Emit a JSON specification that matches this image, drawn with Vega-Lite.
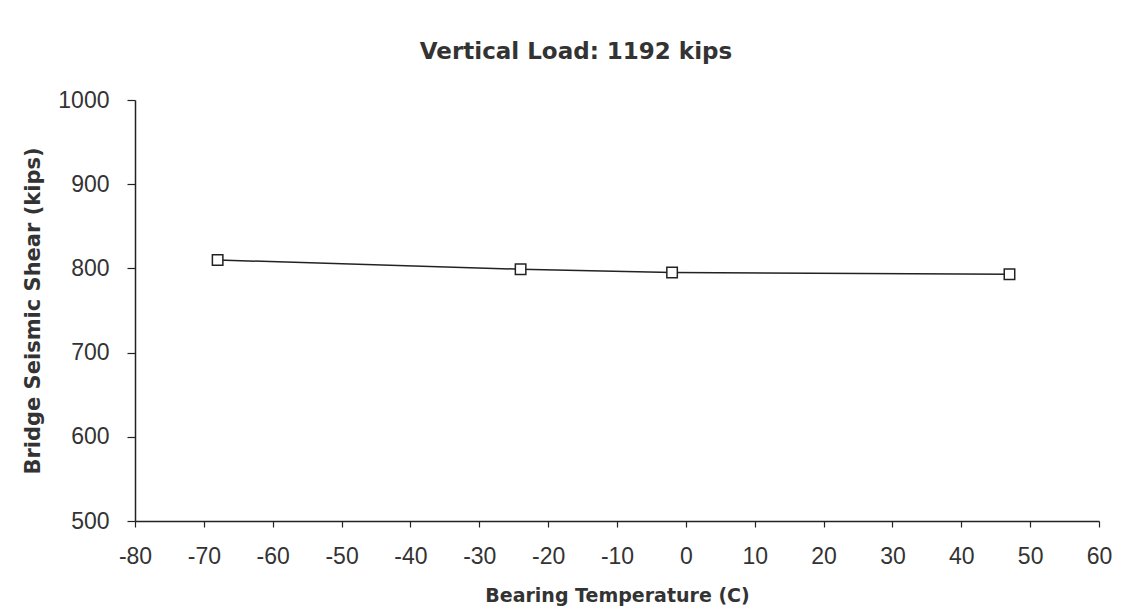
{
  "$schema": "https://vega.github.io/schema/vega-lite/v6.json",
  "autosize": {"type": "none"},
  "padding": {"left": 135, "top": 100, "right": 38, "bottom": 92},
  "width": 964,
  "height": 421,
  "background": "white",
  "title": {
    "text": "Vertical Load: 1192 kips",
    "font": "DejaVu Sans",
    "fontWeight": "bold",
    "fontSize": 23,
    "color": "#333333",
    "anchor": "middle",
    "dx": -41,
    "offset": 25
  },
  "data": {
    "values": [
      {"temperature": -68, "shear": 810},
      {"temperature": -24, "shear": 799},
      {"temperature": -2, "shear": 795},
      {"temperature": 47, "shear": 793}
    ]
  },
  "config": {
    "view": {"stroke": null},
    "axis": {
      "grid": false,
      "domainColor": "#222222",
      "domainWidth": 1.5,
      "tickColor": "#222222",
      "tickWidth": 1.2,
      "labelFont": "Liberation Sans",
      "labelFontSize": 23,
      "labelColor": "#333333",
      "labelExpr": "datum.value + ''",
      "titleFont": "DejaVu Sans",
      "titleFontWeight": "bold",
      "titleColor": "#333333"
    }
  },
  "layer": [
    {
      "mark": {"type": "line", "color": "#222222", "strokeWidth": 1.5},
      "encoding": {
        "x": {
          "field": "temperature",
          "type": "quantitative",
          "scale": {"domain": [-80, 60], "nice": false, "zero": false},
          "axis": {
            "title": "Bearing Temperature (C)",
            "titleFontSize": 19,
            "titlePadding": 18,
            "values": [-80, -70, -60, -50, -40, -30, -20, -10, 0, 10, 20, 30, 40, 50, 60],
            "tickSize": 6,
            "labelPadding": 18,
            "labelFlush": false
          }
        },
        "y": {
          "field": "shear",
          "type": "quantitative",
          "scale": {"domain": [500, 1000], "nice": false, "zero": false},
          "axis": {
            "title": "Bridge Seismic Shear (kips)",
            "titleFontSize": 21,
            "titlePadding": 14,
            "values": [500, 600, 700, 800, 900, 1000],
            "tickSize": 8,
            "labelPadding": 18,
            "labelFlush": false
          }
        }
      }
    },
    {
      "mark": {"type": "point", "shape": "square", "filled": true, "fill": "white", "stroke": "#222222", "strokeWidth": 1.5, "size": 110, "opacity": 1},
      "encoding": {
        "x": {"field": "temperature", "type": "quantitative"},
        "y": {"field": "shear", "type": "quantitative"}
      }
    }
  ]
}
